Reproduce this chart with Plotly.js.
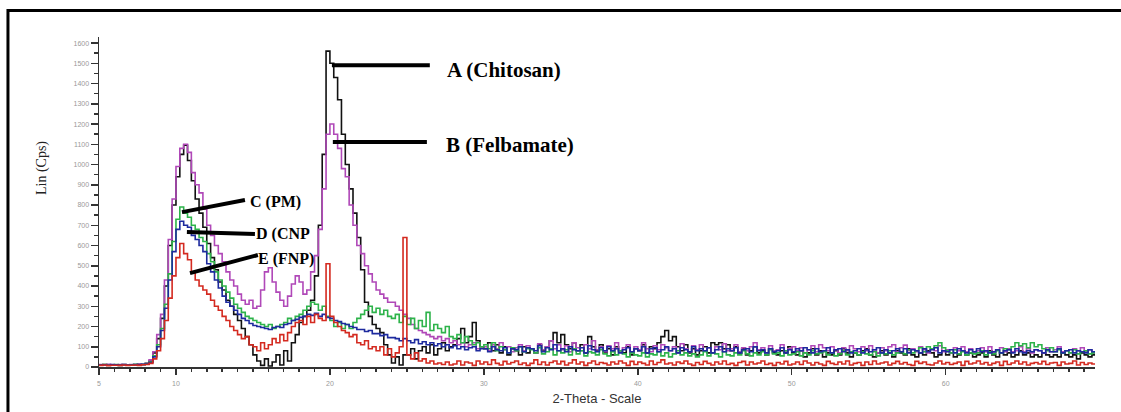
<!DOCTYPE html>
<html>
<head>
<meta charset="utf-8">
<script src="https://cdn.plot.ly/plotly-3.0.1.min.js"></script>
<style>html,body{margin:0;padding:0;background:#fff;}#chart{width:1121px;height:412px;}</style>
</head>
<body>
<div id="chart"></div>
<script>
// 2-Theta scan: start 5 deg, step 0.25 deg (one row = one degree, 4 readings)
const scanStart = 5;
const scanStep = 0.25;

const seriesNames = ["A (Chitosan)", "B (Felbamate)", "C (PM)", "D (CNP", "E (FNP)"];

const chitosanA = [
10,12,9,11, 10,8,12,10, 11,9,13,12, 18,30,70,140, 240,400,600,800,
940,1050,1095,1020, 920,830,760,690, 610,540,480,420, 380,330,300,260, 230,190,150,110,
60,30,8,40, 5,25,60,10, 80,30,120,160, 220,250,280,330, 450,700,1050,1560,
1500,1430,1320,1150, 1000,880,760,640, 480,320,250,210, 190,170,110,60, 20,50,10,60,
60,90,40,80, 100,70,110,60, 90,120,80,100, 110,140,190,120, 150,220,130,100,
90,120,80,110, 70,100,60,90, 80,60,100,70, 90,70,110,80, 100,130,170,120,
160,110,90,120, 80,110,70,150, 100,80,110,70, 90,60,100,80, 70,100,60,90,
80,110,70,100, 90,120,150,180, 130,150,100,80, 110,70,90,60, 80,100,70,120,
110,120,90,110, 80,100,70,90, 60,80,100,70, 80,60,90,70, 60,80,70,100,
70,60,80,50, 70,90,60,80, 50,70,60,80, 60,90,70,50, 70,60,80,90,
60,50,70,80, 60,70,50,80, 70,60,90,60, 50,70,60,80, 70,50,60,80,
60,70,50,60, 80,60,70,50, 60,70,50,80, 60,50,70,60, 70,50,60,80,
60,70,50,60, 50,70,60,50, 60,50,70,60, 50,60,40,70, 60,50,60,40
];

const felbamateB = [
12,10,13,11, 10,12,9,11, 12,10,14,12, 16,35,75,160, 260,430,630,830,
990,1080,1100,1060, 960,900,860,780, 700,650,600,560, 520,470,430,400, 360,330,310,330,
290,300,380,470, 490,420,370,330, 300,350,410,450, 420,360,380,470, 550,680,880,1150,
1200,1150,1080,980, 940,800,700,600, 560,500,460,420, 380,360,340,320, 320,300,280,260,
240,210,190,180, 170,160,150,140, 150,130,140,120, 130,110,120,100, 110,120,90,100,
100,80,110,90, 120,85,100,75, 95,110,80,105, 90,70,115,85, 100,130,90,110,
85,105,75,120, 95,80,110,90, 130,85,100,75, 105,90,120,80, 95,110,70,100,
85,120,90,75, 105,85,110,95, 80,100,70,115, 90,75,105,85, 110,80,95,70,
100,85,115,80, 90,110,75,95, 80,100,120,85, 95,70,105,80, 85,110,75,90,
100,80,95,70, 85,105,75,110, 95,80,100,85, 70,95,80,105, 90,75,100,80,
105,85,70,95, 80,100,110,75, 95,108,80,90, 75,100,85,70, 90,80,105,75,
85,70,95,80, 100,75,90,70, 80,95,75,100, 70,85,95,75, 90,75,80,100,
75,90,70,85, 80,70,95,75, 85,100,75,80, 70,90,80,95, 75,85,70,60
];

const physicalMixC = [
10,12,9,11, 12,10,11,9, 11,13,10,12, 15,25,55,110, 190,310,460,620,
730,790,760,740, 700,680,640,620, 560,520,470,430, 400,370,340,310, 290,270,250,240,
230,220,210,200, 210,190,200,210, 220,240,230,250, 260,280,300,320, 310,280,300,250,
230,200,220,190, 210,190,220,240, 260,280,300,270, 290,260,280,250, 240,260,220,250,
210,240,190,230, 200,270,180,210, 190,170,200,150, 140,160,120,150, 130,110,120,100,
110,90,120,80, 100,85,70,95, 80,100,75,90, 85,70,95,65, 75,90,60,80,
70,85,60,90, 65,80,55,75, 70,60,85,65, 55,75,60,80, 65,50,70,60,
55,70,50,65, 60,75,55,70, 50,65,80,60, 70,55,65,50, 60,75,55,70,
65,50,75,60, 55,70,60,80, 65,55,70,60, 75,60,85,65, 70,55,80,60,
65,75,55,70, 60,80,65,70, 75,60,70,55, 65,80,60,75, 70,60,75,65,
60,75,55,70, 65,80,60,70, 75,65,85,70, 80,95,75,100, 90,105,120,95,
80,70,85,65, 75,60,70,65, 70,80,60,75, 65,80,70,90, 85,100,120,105,
115,95,120,100, 110,90,80,95, 75,85,70,80, 70,85,65,75, 80,65,70,55
];

const chitosanNanoD = [
10,11,9,12, 11,10,12,10, 10,12,11,13, 14,22,50,100, 180,290,430,570,
680,720,700,690, 650,630,600,570, 510,470,430,390, 350,320,300,280, 260,240,230,215,
205,200,195,190, 185,195,200,195, 210,215,230,235, 245,250,260,255, 265,250,260,245,
240,230,225,215, 210,200,195,185, 185,175,180,165, 165,155,160,145, 145,140,130,140,
130,120,135,115, 125,110,120,105, 115,100,110,95, 105,90,100,85, 95,100,80,90,
90,75,100,85, 80,95,70,90, 85,100,75,95, 90,80,105,75, 95,85,110,80,
90,75,100,85, 80,95,70,105, 85,75,95,80, 100,80,90,70, 85,95,75,90,
80,100,70,90, 95,75,85,100, 80,90,70,95, 85,75,100,80, 90,80,95,70,
85,100,75,90, 80,95,70,85, 90,75,100,80, 85,70,90,75, 80,95,70,85,
75,90,80,95, 85,70,90,75, 80,95,70,85, 90,75,85,70, 80,90,70,85,
75,85,95,70, 85,70,80,90, 75,90,70,85, 80,70,90,75, 85,95,70,80,
75,85,70,90, 80,70,85,75, 90,75,80,70, 75,85,70,80, 85,70,90,75,
70,80,75,85, 80,70,85,75, 75,90,70,80, 85,70,80,75, 70,85,75,60
];

const felbamateNanoE = [
8,10,7,9, 9,8,10,8, 9,10,8,11, 12,18,40,80, 140,230,340,450,
540,610,560,530, 470,430,400,380, 360,330,300,280, 250,230,200,180, 160,140,150,110,
100,80,120,90, 110,140,120,160, 130,170,200,220, 230,210,250,220, 260,240,230,510,
250,220,200,180, 170,150,160,120, 110,130,90,100, 80,100,60,90, 50,70,100,640,
60,40,70,30, 40,20,30,15, 20,12,25,10, 15,30,10,25, 20,8,30,15,
25,12,35,18, 10,28,15,22, 30,12,20,8, 18,35,12,25, 10,22,30,15,
28,10,20,35, 15,25,8,20, 30,12,22,18, 10,25,15,30, 20,8,28,12,
25,18,10,30, 12,22,35,15, 20,10,25,18, 30,15,8,22, 12,28,18,10,
25,15,30,12, 18,8,22,28, 10,25,15,20, 30,12,18,8, 22,15,28,10,
15,25,12,30, 20,10,22,15, 8,28,18,12, 25,15,30,10, 18,22,8,25,
12,30,15,20, 25,10,18,28, 15,22,12,8, 28,18,25,12, 10,20,30,15,
22,12,18,25, 8,28,15,20, 30,15,22,10, 18,25,8,28, 12,20,30,15,
25,10,18,22, 15,28,12,20, 22,8,25,15, 18,30,10,22, 12,20,15,8
];

const xTickVals = [5, 10, 20, 30, 40, 50, 60];
const xTickText = ["5", "10", "20", "30", "40", "50", "60"];

const seriesValues = [chitosanA, felbamateB, physicalMixC, chitosanNanoD, felbamateNanoE];
const seriesColors = ["#111111", "#b048b8", "#2db34a", "#1d2a9e", "#d42a20"];

const traces = seriesValues.map((vals, i) => ({
  type: "scatter",
  mode: "lines",
  name: seriesNames[i],
  x0: scanStart,
  dx: scanStep,
  y: vals,
  line: {color: seriesColors[i], width: 1.6, shape: "hv"},
  showlegend: false,
  hoverinfo: "skip"
}));

const serif = "Liberation Serif, Times New Roman, serif";
const sans = "Liberation Sans, Arial, sans-serif";
const labelFont = {family: serif, size: 21, color: "#000", weight: 700};
const smallLabelFont = {family: serif, size: 16, color: "#000", weight: 700};

const lineStyle = {color: "#000", width: 4};

const layout = {
  width: 1121,
  height: 412,
  margin: {l: 99, r: 26, t: 37, b: 45, pad: 0},
  paper_bgcolor: "#ffffff",
  plot_bgcolor: "#ffffff",
  showlegend: false,
  xaxis: {
    range: [5, 69.7],
    showgrid: false,
    zeroline: false,
    showline: true,
    linecolor: "#333",
    linewidth: 1.5,
    ticks: "outside",
    ticklen: 6,
    tickwidth: 1.5,
    tickcolor: "#333",
    tickmode: "array",
    tickvals: xTickVals,
    ticktext: xTickText,
    tickfont: {family: sans, size: 7, color: "#999"},
    ticklabelstandoff: 3,
    minor: {tickmode: "linear", tick0: 5, dtick: 1, ticks: "outside", ticklen: 3, tickwidth: 1.5, tickcolor: "#333", showgrid: false},
    title: {text: "2-Theta - Scale", font: {family: sans, size: 13, color: "#333"}, standoff: 8}
  },
  yaxis: {
    range: [0, 1630],
    showgrid: false,
    zeroline: false,
    showline: true,
    linecolor: "#333",
    linewidth: 1.5,
    ticks: "outside",
    ticklen: 7,
    tickwidth: 1.5,
    tickcolor: "#333",
    tick0: 0,
    dtick: 100,
    tickfont: {family: sans, size: 7, color: "#999"},
    minor: {tick0: 0, dtick: 50, ticks: "outside", ticklen: 4, tickwidth: 1.5, tickcolor: "#333", showgrid: false}
  },
  shapes: [
    {type: "line", xref: "x", yref: "y", x0: 20.13, y0: 1491, x1: 26.49, y1: 1491, line: lineStyle},
    {type: "line", xref: "x", yref: "y", x0: 20.19, y0: 1111, x1: 26.3, y1: 1111, line: lineStyle},
    {type: "line", xref: "x", yref: "y", x0: 10.39, y0: 765, x1: 14.48, y1: 825, line: lineStyle},
    {type: "line", xref: "x", yref: "y", x0: 10.71, y0: 667, x1: 15.13, y1: 657, line: lineStyle},
    {type: "line", xref: "x", yref: "y", x0: 10.91, y0: 464, x1: 15.32, y1: 553, line: lineStyle},
    {type: "rect", xref: "paper", yref: "paper", x0: -0.0914, x1: 1.06, y0: -0.25, y1: 1.0803, line: {color: "#000", width: 3}, fillcolor: "rgba(0,0,0,0)"}
  ],
  annotations: [
    {xref: "x", yref: "y", x: 27.5, y: 1467, text: seriesNames[0], showarrow: false, xanchor: "left", yanchor: "middle", font: labelFont},
    {xref: "x", yref: "y", x: 27.4, y: 1097, text: seriesNames[1], showarrow: false, xanchor: "left", yanchor: "middle", font: labelFont},
    {xref: "x", yref: "y", x: 14.7, y: 815, text: seriesNames[2], showarrow: false, xanchor: "left", yanchor: "middle", font: smallLabelFont},
    {xref: "x", yref: "y", x: 15.1, y: 657, text: seriesNames[3], showarrow: false, xanchor: "left", yanchor: "middle", font: smallLabelFont},
    {xref: "x", yref: "y", x: 15.2, y: 533, text: seriesNames[4], showarrow: false, xanchor: "left", yanchor: "middle", font: smallLabelFont},
    {xref: "paper", yref: "paper", x: -0.0572, y: 0.603, text: "Lin (Cps)", textangle: -90, showarrow: false, xanchor: "center", yanchor: "middle", font: {family: serif, size: 14, color: "#222"}}
  ]
};

Plotly.newPlot("chart", traces, layout, {staticPlot: true, displayModeBar: false});
</script>
</body>
</html>
